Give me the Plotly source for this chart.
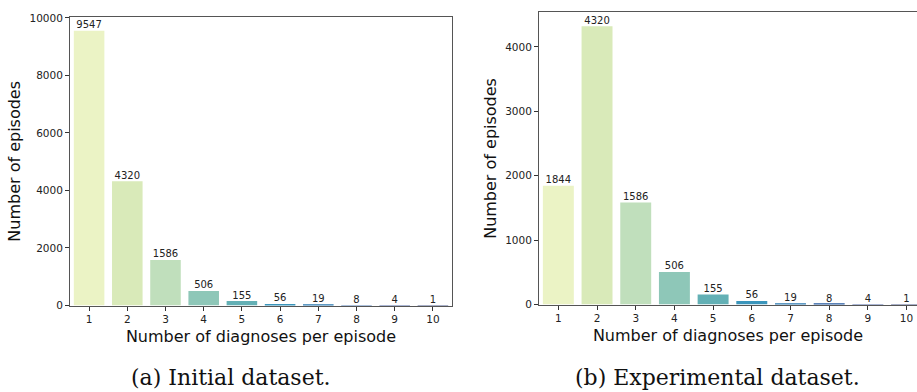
import plotly.graph_objects as go

categories = ["1", "2", "3", "4", "5", "6", "7", "8", "9", "10"]
initial_counts = [9547, 4320, 1586, 506, 155, 56, 19, 8, 4, 1]
experimental_counts = [1844, 4320, 1586, 506, 155, 56, 19, 8, 4, 1]
bar_colors = ["#ebf3c5", "#d9eab9", "#c0dfbc", "#8ec7b8", "#63b0b5",
              "#3a95bb", "#2a78b0", "#24589f", "#223f8e", "#1b2e6e"]
left_yticks = [0, 2000, 4000, 6000, 8000, 10000]
right_yticks = [0, 1000, 2000, 3000, 4000]
x_title = "Number of diagnoses per episode"
y_title = "Number of episodes"
captions = ["(a) Initial dataset.", "(b) Experimental dataset."]

W, H = 917, 392
fig = go.Figure()

for vals, xa, ya in [(initial_counts, "x", "y"), (experimental_counts, "x2", "y2")]:
    fig.add_trace(go.Bar(
        x=categories, y=vals, marker=dict(color=bar_colors, line=dict(width=0)),
        width=0.8, xaxis=xa, yaxis=ya, showlegend=False, hoverinfo="x+y",
    ))
    fig.add_trace(go.Scatter(
        x=categories, y=vals, mode="text", text=[str(v) for v in vals],
        textposition="top center",
        textfont=dict(family="DejaVu Sans", size=10, color="#222"),
        cliponaxis=False, xaxis=xa, yaxis=ya, showlegend=False, hoverinfo="skip",
    ))

def ydom(top, bottom):
    return [(H - bottom) / H, (H - top) / H]

axis_common = dict(showgrid=False, zeroline=False, ticks="outside", ticklen=4,
                   tickcolor="#333", linecolor="#555", linewidth=1, showline=True,
                   tickfont=dict(family="DejaVu Sans", size=10.5, color="#222"))
title_font = dict(family="DejaVu Sans", size=16, color="#111")
cap_font = dict(family="DejaVu Serif", size=22, color="#111")

fig.update_layout(
    width=W, height=H, margin=dict(l=0, r=0, t=0, b=0),
    plot_bgcolor="white", paper_bgcolor="white", bargap=0.2,
    xaxis=dict(domain=[70 / W, 452 / W], range=[-0.5, 9.5], type="category",
               mirror=True, anchor="y",
               title=dict(text=x_title, font=title_font, standoff=6),
               **axis_common),
    yaxis=dict(domain=ydom(11.5, 309), range=[0, 10024], tickvals=left_yticks,
               ticktext=[str(v) for v in left_yticks],
               mirror=True, anchor="x",
               title=dict(text=y_title, font=title_font, standoff=4),
               **axis_common),
    xaxis2=dict(domain=[539 / W, 1.0], range=[-0.5, 9.27], type="category",
                mirror=True, anchor="y2",
                title=dict(text=x_title, font=title_font, standoff=6),
                **axis_common),
    yaxis2=dict(domain=ydom(6.5, 308), range=[0, 4536], tickvals=right_yticks,
                ticktext=[str(v) for v in right_yticks],
                mirror=False, anchor="x2",
                title=dict(text=y_title, font=title_font, standoff=4),
                **axis_common),
    annotations=[
        dict(text=captions[0], x=231 / W, y=(H - 383) / H, xref="paper", yref="paper",
             xanchor="center", yanchor="middle", showarrow=False, font=cap_font),
        dict(text=captions[1], x=717 / W, y=(H - 383) / H, xref="paper", yref="paper",
             xanchor="center", yanchor="middle", showarrow=False, font=cap_font),
    ],
)

fig.write_html("out.html", config={"displayModeBar": False},
               post_script="document.body.style.margin='0';document.body.style.overflow='hidden';")
